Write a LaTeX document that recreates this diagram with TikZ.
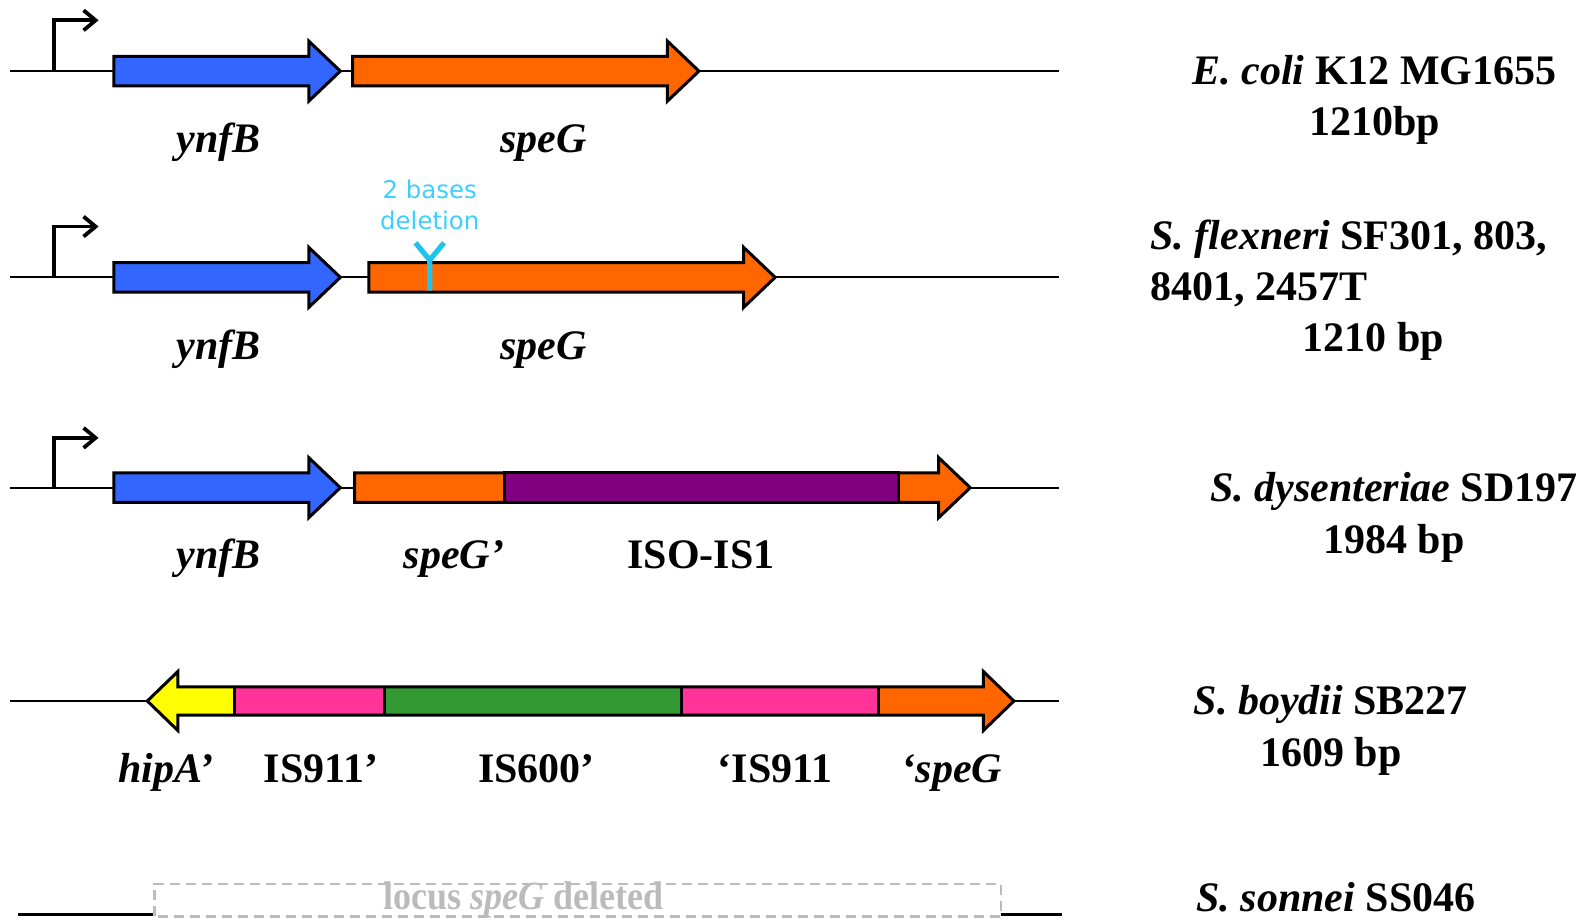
\documentclass[tikz,border=0pt]{standalone}
\usepackage{fontspec}
\setmainfont{Liberation Serif}
\newfontfamily\notefont{DejaVu Sans}
\usetikzlibrary{arrows.meta}

\definecolor{geneblue}{HTML}{3366FF}
\definecolor{geneorange}{HTML}{FF6600}
\definecolor{genepurple}{HTML}{800080}
\definecolor{genepink}{HTML}{FF3399}
\definecolor{genegreen}{HTML}{339933}
\definecolor{geneyellow}{HTML}{FFFF00}
\definecolor{notecyan}{HTML}{3CCFFF}
\definecolor{markcyan}{HTML}{1EC4EE}
\definecolor{lostgray}{HTML}{BBBBBB}

% forward gene arrow: start, tip, row, colour
\newcommand{\fwdgene}[4]{%
  \filldraw[gene, fill=#4] (#1,#3-14.5) -- (#2-31,#3-14.5) -- (#2-31,#3-29.5)
    -- (#2,#3) -- (#2-31,#3+29.5) -- (#2-31,#3+14.5) -- (#1,#3+14.5) -- cycle;}

\begin{document}
\begin{tikzpicture}[x=0.508pt, y=-0.508pt,
    backbone/.style={line width=1.1pt},
    gene/.style={draw=black, line width=1.5pt, line join=miter},
    promoter/.style={line width=1.9pt, -{Straight Barb[length=6pt, width=10pt, line width=1.9pt]}},
    genelabel/.style={anchor=base, inner sep=0pt, font=\fontsize{21}{24}\selectfont\bfseries\itshape},
    islabel/.style={anchor=base, inner sep=0pt, font=\fontsize{21}{24}\selectfont\bfseries},
    strain/.style={anchor=base, inner sep=0pt, font=\fontsize{21}{24}\selectfont\bfseries},
    note/.style={anchor=base, inner sep=0pt, text=notecyan, font=\fontsize{12.2}{14}\selectfont\notefont}]
  \useasboundingbox (0,0) rectangle (1568,905);

  % E. coli
  \draw[backbone] (10,70) -- (1042,70);
  \draw[promoter] (53,71) |- (97,20);
  \fwdgene{112}{335}{70}{geneblue}
  \fwdgene{347}{688}{70}{geneorange}
  \node[genelabel] (ynfB1) at (215,150) {ynfB};
  \node[genelabel] (speG1) at (535,150) {speG};
  \node[strain] (ecoli) at (1353,83) {\itshape E. coli\/\upshape{} K12 MG1655};
  \node[strain] (ecolibp) at (1353,133) {1210bp};

  % S. flexneri
  \draw[backbone] (10,273) -- (1042,273);
  \draw[promoter] (53,274) |- (97,223);
  \fwdgene{112}{335}{273}{geneblue}
  \fwdgene{363}{763}{273}{geneorange}
  \draw[markcyan, line width=2.6pt] (423,286) -- (423,256) -- (409,239)
    (423,256) -- (437,239);
  \node[note] (del1) at (423,195) {2 bases};
  \node[note] (del2) at (423,226) {deletion};
  \node[genelabel] (ynfB2) at (215,354) {ynfB};
  \node[genelabel] (speG2) at (535,354) {speG};
  \node[strain, anchor=base west] (sflex) at (1132,246) {\itshape S. flexneri\/\upshape{} SF301, 803,};
  \node[strain, anchor=base west] (sflex2) at (1132,296) {8401, 2457T};
  \node[strain] (sflexbp) at (1352,346) {1210 bp};

  % S. dysenteriae
  \draw[backbone] (10,480) -- (1042,480);
  \draw[promoter] (53,481) |- (97,431);
  \fwdgene{112}{335}{480}{geneblue}
  \fwdgene{349}{955}{480}{geneorange}
  \filldraw[gene, fill=genepurple] (497,465.5) rectangle (884,494.5);
  \node[genelabel] (ynfB3) at (215,560) {ynfB};
  \node[genelabel] (speG3) at (447,560) {speG’};
  \node[islabel] (iso) at (690,560) {ISO-IS1};
  \node[strain] (sdys) at (1372,494) {\itshape S. dysenteriae\/\upshape{} SD197};
  \node[strain] (sdysbp) at (1372,545) {1984 bp};

  % S. boydii
  \draw[backbone] (10,690) -- (1042,690);
  \fill[geneyellow] (145,690) -- (175,661) -- (175,676) -- (231,676) -- (231,704) -- (175,704) -- (175,719) -- cycle;
  \fill[genepink] (231,676) rectangle (378,704);
  \fill[genegreen] (378,676) rectangle (671,704);
  \fill[genepink] (671,676) rectangle (865,704);
  \fill[geneorange] (865,676) -- (968,676) -- (968,661) -- (998,690) -- (968,719) -- (968,704) -- (865,704) -- cycle;
  \draw[gene] (145,690) -- (175,661) -- (175,676) -- (968,676) -- (968,661) -- (998,690)
    -- (968,719) -- (968,704) -- (175,704) -- (175,719) -- cycle;
  \foreach \cut in {231,378,671,865}
    \draw[gene] (\cut,676) -- (\cut,704);
  \node[genelabel] (hipA) at (163,770) {hipA’};
  \node[islabel] (isa) at (316,770) {IS911’};
  \node[islabel] (isb) at (528,770) {IS600’};
  \node[islabel] (isc) at (763,770) {‘IS911};
  \node[genelabel] (speG4) at (937,770) {‘speG};
  \node[strain] (sboy) at (1310,703) {\itshape S. boydii\/\upshape{} SB227};
  \node[strain] (sboybp) at (1310,754) {1609 bp};

  % S. sonnei
  \draw[line width=1.5pt] (18,900) -- (152,900);
  \draw[line width=1.5pt] (985,900) -- (1045,900);
  \draw[lostgray, line width=1.2pt, dash pattern=on 5pt off 3pt] (152,902) rectangle (985,870);
  \node[strain, text=lostgray, font=\fontsize{20}{24}\selectfont\bfseries] (locus) at (515,895) {\scalebox{0.9}[1]{locus \itshape speG\/\upshape{} deleted}};
  \node[strain] (sson) at (1315,897) {\itshape S. sonnei\/\upshape{} SS046};
\end{tikzpicture}
\end{document}
